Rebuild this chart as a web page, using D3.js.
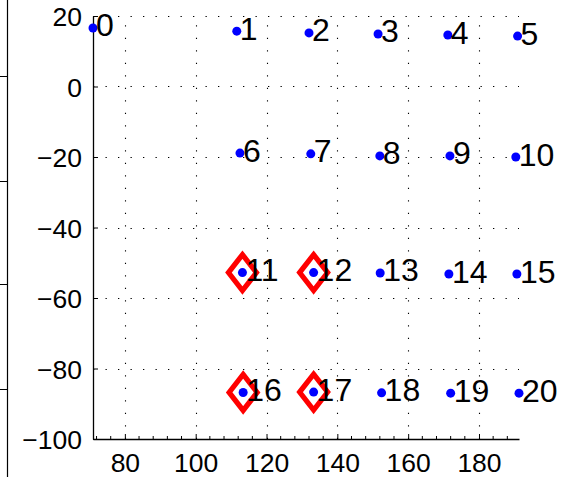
<!DOCTYPE html>
<html>
<head>
<meta charset="utf-8">
<script src="https://cdn.jsdelivr.net/npm/d3@7"></script>
<style>
  html, body { margin: 0; padding: 0; background: #fff; }
  svg { display: block; font-family: "Liberation Sans", Arial, Helvetica, sans-serif; }
</style>
</head>
<body>
<svg id="chart" width="564" height="477"></svg>
<script>
// Node positions (x, y) and their numeric labels
const nodeIds = [0, 1, 2, 3, 4, 5, 6, 7, 8, 9, 10, 11, 12, 13, 14, 15, 16, 17, 18, 19, 20];
const nodeX = [71.0, 111.6, 132.0, 151.5, 171.2, 190.9,
               112.5, 132.5, 152.0, 171.8, 190.4,
               113.2, 133.3, 152.1, 171.5, 190.7,
               113.4, 133.3, 152.5, 172.0, 191.3];
const nodeY = [16.6, 15.7, 15.2, 14.9, 14.6, 14.3,
               -18.9, -19.1, -19.7, -19.7, -20.0,
               -52.8, -52.8, -52.9, -53.2, -53.2,
               -86.8, -86.7, -86.9, -87.0, -87.0];
// Nodes marked with a red diamond
const markedIds = [11, 12, 16, 17];

// Axis ticks
const xTicks = [80, 100, 120, 140, 160, 180];
const yTicks = [-100, -80, -60, -40, -20, 0, 20];
const xMinorStep = 4;

const svg = d3.select("#chart");

const x = d3.scaleLinear().domain([71, 191.3]).range([93, 519]);
const y = d3.scaleLinear().domain([-100, 20]).range([439, 16]);

// Edge of the neighbouring panel on the left
const side = svg.append("g");
side.append("line")
  .attr("x1", 7.5).attr("x2", 7.5).attr("y1", 0).attr("y2", 477)
  .attr("stroke", "#000").attr("stroke-width", 1.2);
side.selectAll("line.st")
  .data([76, 181, 284, 389])
  .join("line")
  .attr("class", "st")
  .attr("x1", 0).attr("x2", 7.5)
  .attr("y1", d => d + 0.5).attr("y2", d => d + 0.5)
  .attr("stroke", "#000").attr("stroke-width", 1);

// Dotted grid
const grid = svg.append("g")
  .attr("stroke", "#000").attr("stroke-width", 1.1)
  .attr("stroke-dasharray", "1.3,11.2").attr("fill", "none");
grid.selectAll("line.gx")
  .data(xTicks)
  .join("line")
  .attr("class", "gx")
  .attr("x1", d => Math.round(x(d)) + 0.5).attr("x2", d => Math.round(x(d)) + 0.5)
  .attr("y1", y(-100)).attr("y2", y(20));
grid.selectAll("line.gy")
  .data(yTicks.filter(d => d > -100))
  .join("line")
  .attr("class", "gy")
  .attr("x1", x(71)).attr("x2", x(191.3))
  .attr("y1", d => Math.round(y(d)) + 0.5).attr("y2", d => Math.round(y(d)) + 0.5);

// Axes: ticks point inward, labels outside
const xAxis = d3.axisBottom(x).tickValues(xTicks).tickSize(-5).tickPadding(10).tickSizeOuter(0);
const yAxis = d3.axisLeft(y).tickValues(yTicks).tickSize(-5).tickPadding(11).tickSizeOuter(0);

const gx = svg.append("g").attr("transform", `translate(0,${y(-100)})`).call(xAxis);
const gy = svg.append("g").attr("transform", `translate(${x(71)},0)`).call(yAxis);

[gx, gy].forEach(g => {
  g.select(".domain").attr("stroke", "#000").attr("stroke-width", 1.3);
  g.selectAll(".tick line").attr("stroke", "#000").attr("stroke-width", 1);
  g.selectAll(".tick text")
    .attr("fill", "#000")
    .style("font-size", "26.5px")
    .style("font-family", '"Liberation Sans", Arial, Helvetica, sans-serif');
});
gx.selectAll(".tick text").attr("dy", "0.71em").attr("y", 14);
gy.selectAll(".tick text").attr("dy", "0.36em").attr("x", -11);

// Minor ticks along the x axis
const minor = d3.range(72, 191, xMinorStep).filter(v => !xTicks.includes(v));
gx.selectAll("line.minor")
  .data(minor)
  .join("line")
  .attr("class", "minor")
  .attr("x1", d => x(d)).attr("x2", d => x(d))
  .attr("y1", 0).attr("y2", -3)
  .attr("stroke", "#000").attr("stroke-width", 1);

const nodes = nodeIds.map((id, i) => ({ id, x: nodeX[i], y: nodeY[i] }));

// Red diamonds around the marked nodes
const hw = 14, hh = 18;
svg.append("g")
  .selectAll("path")
  .data(nodes.filter(n => markedIds.includes(n.id)))
  .join("path")
  .attr("d", n => {
    const cx = x(n.x), cy = y(n.y);
    return `M${cx},${cy - hh}L${cx + hw},${cy}L${cx},${cy + hh}L${cx - hw},${cy}Z`;
  })
  .attr("fill", "none")
  .attr("stroke", "#ff0000")
  .attr("stroke-width", 5.2)
  .attr("stroke-linejoin", "miter");

// Blue node dots
svg.append("g")
  .selectAll("circle")
  .data(nodes)
  .join("circle")
  .attr("cx", n => x(n.x))
  .attr("cy", n => y(n.y))
  .attr("r", 4.5)
  .attr("fill", "#0000ff");

// Node numbers
svg.append("g")
  .selectAll("text")
  .data(nodes)
  .join("text")
  .attr("x", n => x(n.x) + 3)
  .attr("y", n => y(n.y) + 8.5)
  .attr("fill", "#000")
  .style("font-size", "32px")
  .text(n => n.id);
</script>
</body>
</html>
